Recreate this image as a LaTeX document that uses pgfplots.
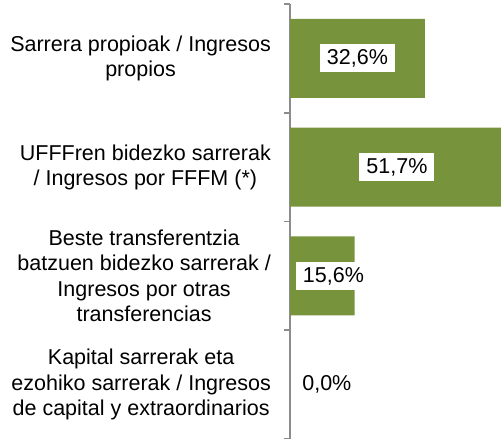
\documentclass[border=0pt]{standalone}
\usepackage{pgfplots}
\pgfplotsset{compat=1.18}
\usepackage{fontspec}
\setmainfont{Liberation Sans}
\definecolor{barolive}{RGB}{119,147,60}
\definecolor{axgray}{RGB}{140,140,140}
\newcommand{\chartfont}{\fontsize{21.5bp}{25.3bp}\selectfont}
\begin{document}
\begin{tikzpicture}
\useasboundingbox (0,0) rectangle (501bp,439bp);
\begin{axis}[
  at={(290bp,0bp)}, anchor=south west,
  scale only axis, width=211bp, height=435bp,
  xmin=0, xmax=51, ymin=0.5, ymax=4.5, y dir=reverse,
  axis x line=none, axis y line=left,
  axis line style={-, axgray, line width=1.6bp},
  ytick={1,2,3,4},
  yticklabels={{Sarrera propioak / Ingresos\\propios},
               {UFFFren bidezko sarrerak\\/ Ingresos por FFFM (*)},
               {Beste transferentzia\\batzuen bidezko sarrerak /\\Ingresos por otras\\transferencias},
               {Kapital sarrerak eta\\ezohiko sarrerak / Ingresos\\de capital y extraordinarios}},
  yticklabel style={font=\chartfont, align=center, inner sep=0pt, xshift=-19bp},
  major tick length=0pt,
  minor ytick={0.5,1.5,2.5,3.5,4.5},
  minor tick length=6bp,
  tick align=outside,
  minor tick style={axgray, line width=1.6bp},
  clip=true,
]
\addplot[xbar, fill=barolive, draw=none, bar width=79bp] coordinates {
  (32.6,1) (51.7,2) (15.6,3) (0.0,4)
};
\addplot[draw=none, mark=none, nodes near coords, point meta=explicit symbolic,
  every node near coord/.style={anchor=center, fill=white, font=\chartfont, text=black, inner xsep=7bp, inner ysep=5bp}]
  coordinates {
  (16.3,1) [32,6\%]
  (25.85,2) [51,7\%]
  (10.5,3) [15,6\%]
  (8.9,4) [0,0\%]
};
\end{axis}
\end{tikzpicture}
\end{document}
